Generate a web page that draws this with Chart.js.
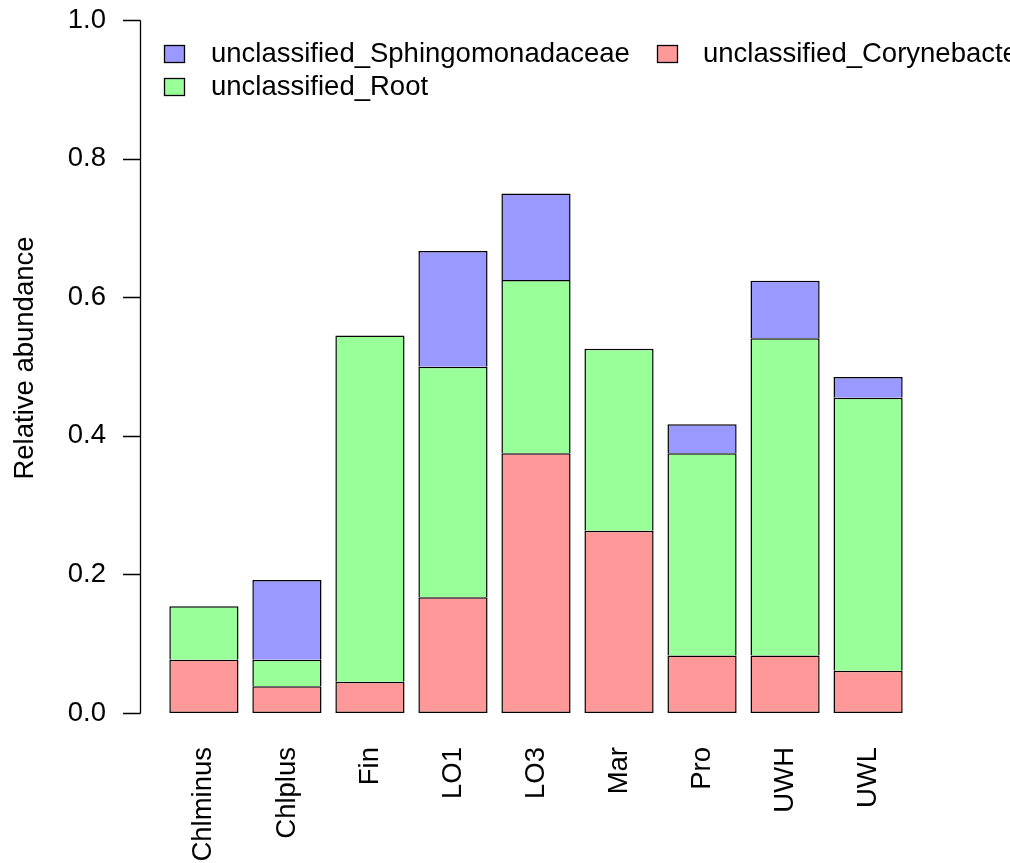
<!DOCTYPE html>
<html>
<head>
<meta charset="utf-8">
<script src="https://cdn.jsdelivr.net/npm/chart.js@4.4.1/dist/chart.umd.min.js"></script>
<style>
  html, body { margin: 0; padding: 0; background: #fff; }
  #wrap { width: 1010px; height: 863px; }
</style>
</head>
<body>
<div id="wrap"><canvas id="chart" width="1010" height="863"></canvas></div>
<script>
// ========================
// Data
// ========================
const samples = ['Chlminus', 'Chlplus', 'Fin', 'LO1', 'LO3', 'Mar', 'Pro', 'UWH', 'UWL'];
const coryne = [0.077, 0.0385, 0.045, 0.167, 0.375, 0.263, 0.083, 0.083, 0.061];
const root = [0.077, 0.0385, 0.5, 0.333, 0.25, 0.263, 0.292, 0.458, 0.394];
const sphingo = [0, 0.115, 0, 0.167, 0.125, 0, 0.042, 0.083, 0.03];
const yTicks = [0, 0.2, 0.4, 0.6, 0.8, 1.0];

const FONT = '27.5px "Liberation Sans", Arial, sans-serif';

// legend order as in the original (filled by column)
const legendItems = [
    { label: 'unclassified_Sphingomonadaceae', color: '#9999FF', col: 0, row: 0 },
    { label: 'unclassified_Root', color: '#99FF99', col: 0, row: 1 },
    { label: 'unclassified_Corynebacteriaceae', color: '#FF9999', col: 1, row: 0 }
];

// ========================
// Axes, labels, legend drawn R-style
// ========================
const baseAxes = {
    id: 'baseAxes',
    afterDraw(chart) {
        const { ctx, scales } = chart;
        const y = scales.y;
        const x = scales.x;
        const axisX = 140;

        ctx.save();
        ctx.strokeStyle = '#000';
        ctx.lineWidth = 1.3;
        ctx.fillStyle = '#000';
        ctx.font = FONT;

        // y axis line + ticks
        ctx.beginPath();
        ctx.moveTo(axisX + 0.5, Math.round(y.getPixelForValue(0)) + 0.5);
        ctx.lineTo(axisX + 0.5, Math.round(y.getPixelForValue(1)) + 0.5);
        yTicks.forEach(v => {
            const py = Math.round(y.getPixelForValue(v)) + 0.5;
            ctx.moveTo(axisX + 0.5, py);
            ctx.lineTo(axisX - 17, py);
        });
        ctx.stroke();

        ctx.textAlign = 'right';
        ctx.textBaseline = 'middle';
        yTicks.forEach(v => {
            ctx.fillText(v.toFixed(1), 106, y.getPixelForValue(v));
        });

        // y title
        ctx.save();
        ctx.translate(25, 358);
        ctx.rotate(-Math.PI / 2);
        ctx.textAlign = 'center';
        ctx.fillText('Relative abundance', 0, 0);
        ctx.restore();

        // x labels, rotated
        samples.forEach((s, i) => {
            ctx.save();
            ctx.translate(x.getPixelForValue(i), 747);
            ctx.rotate(-Math.PI / 2);
            ctx.textAlign = 'right';
            ctx.textBaseline = 'middle';
            ctx.fillText(s, 0, 0);
            ctx.restore();
        });

        // legend
        legendItems.forEach(item => {
            const bx = item.col === 0 ? 164.5 : 657.5;
            const tx = item.col === 0 ? 211 : 703;
            const cy = 54 + item.row * 33;
            ctx.fillStyle = item.color;
            ctx.fillRect(bx, cy - 8.5, 20, 17);
            ctx.strokeRect(bx, cy - 8.5, 20, 17);
            ctx.fillStyle = '#000';
            ctx.textAlign = 'left';
            ctx.textBaseline = 'middle';
            ctx.fillText(item.label, tx, cy);
        });

        ctx.restore();
    }
};

// ========================
// Chart
// ========================
const ctx = document.getElementById('chart');
new Chart(ctx, {
    type: 'bar',
    data: {
        labels: samples,
        datasets: [
            { label: 'unclassified_Corynebacteriaceae', data: coryne, backgroundColor: '#FF9999', borderColor: '#000', borderWidth: 1.5, borderSkipped: false },
            { label: 'unclassified_Root', data: root, backgroundColor: '#99FF99', borderColor: '#000', borderWidth: 1.5, borderSkipped: 'start' },
            { label: 'unclassified_Sphingomonadaceae', data: sphingo, backgroundColor: '#9999FF', borderColor: '#000', borderWidth: 1.5, borderSkipped: 'start' }
        ]
    },
    options: {
        responsive: false,
        animation: false,
        layout: { padding: { left: 162.4, right: 100.4, top: 20.3, bottom: 150 } },
        plugins: { legend: { display: false }, tooltip: { enabled: false } },
        datasets: { bar: { barPercentage: 1 / 1.2, categoryPercentage: 1 } },
        scales: {
            x: { stacked: true, display: false, offset: true },
            y: { stacked: true, display: false, min: 0, max: 1 }
        }
    },
    plugins: [baseAxes]
});
</script>
</body>
</html>
